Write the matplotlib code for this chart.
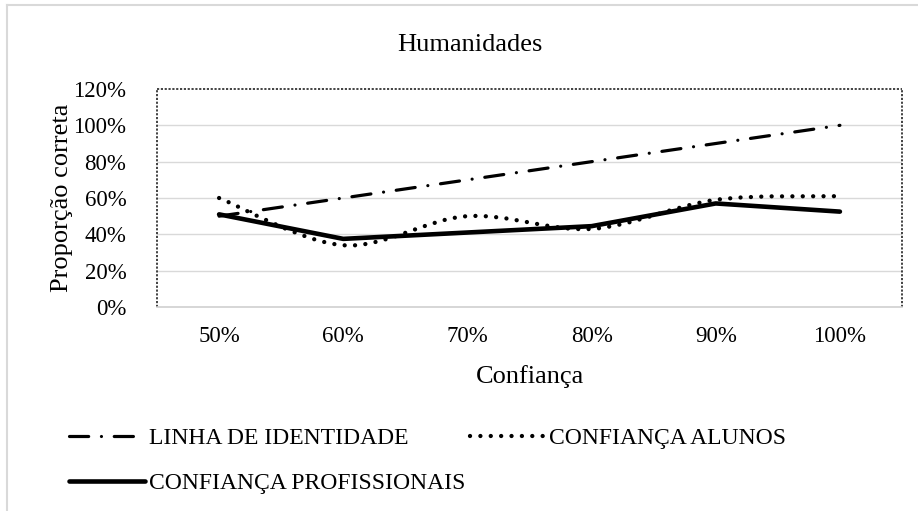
import matplotlib
matplotlib.use("Agg")
import matplotlib.pyplot as plt
from matplotlib.path import Path
from matplotlib.patches import PathPatch
from matplotlib.lines import Line2D
import numpy as np

plt.rcParams['font.family'] = ['Liberation Serif', 'DejaVu Serif']

categories = ["50%", "60%", "70%", "80%", "90%", "100%"]
identidade = [0.50, 0.60, 0.70, 0.80, 0.90, 1.00]
alunos = [0.60, 0.34, 0.50, 0.43, 0.59, 0.61]
profissionais = [0.51, 0.375, 0.41, 0.445, 0.57, 0.525]
yticks = [0, 0.2, 0.4, 0.6, 0.8, 1.0, 1.2]
ytick_labels = ["0%", "20%", "40%", "60%", "80%", "100%", "120%"]

W, H = 918, 511
fig = plt.figure(figsize=(W / 100, H / 100), dpi=100)
ax = fig.add_axes([157 / W, 1 - 307 / H, (902 - 157) / W, (307 - 89) / H])

x = np.arange(len(categories))

DASHDOT = (0, (6, 4.0, 0.01, 4.0))
DOTS = (0, (0.01, 2.4))


def smooth_path(xs, ys):
    n = len(xs)
    verts = [(xs[0], ys[0])]
    codes = [Path.MOVETO]
    for i in range(n - 1):
        p0 = i - 1 if i > 0 else i
        p3 = i + 2 if i + 2 < n else i + 1
        c1 = (xs[i] + (xs[i + 1] - xs[p0]) / 6, ys[i] + (ys[i + 1] - ys[p0]) / 6)
        c2 = (xs[i + 1] - (xs[p3] - xs[i]) / 6, ys[i + 1] - (ys[p3] - ys[i]) / 6)
        verts += [c1, c2, (xs[i + 1], ys[i + 1])]
        codes += [Path.CURVE4] * 3
    return Path(verts, codes)


# gridlines
for yv in yticks[1:-1]:
    ax.axhline(yv, color="#d9d9d9", lw=1.0, zorder=0)

ax.plot(x, identidade, color="black", lw=2.3, linestyle=DASHDOT,
        dash_capstyle="round", zorder=3)
dot_patch = PathPatch(smooth_path(x, alunos), fill=False, edgecolor="black", lw=3.1,
                      linestyle=DOTS, capstyle="round", zorder=3)
ax.add_patch(dot_patch)
ax.plot(x, profissionais, color="black", lw=3.3, solid_capstyle="round",
        solid_joinstyle="round", zorder=4)

ax.set_xlim(-0.5, len(categories) - 0.5)
ax.set_ylim(0, 1.2)
ax.set_xticks(x)
ax.set_xticklabels(categories, fontsize=16.5)
ax.set_yticks(yticks)
ax.set_yticklabels(ytick_labels, fontsize=16.5)
ax.tick_params(length=0)
ax.tick_params(axis="y", pad=22)
ax.tick_params(axis="x", pad=14)

for s in ["left", "top", "right"]:
    ax.spines[s].set_linestyle((0, (1.3, 1.0)))
    ax.spines[s].set_linewidth(1.2)
    ax.spines[s].set_color("#222222")
    ax.spines[s].set_capstyle("butt")
ax.spines["bottom"].set_color("#d0d0d0")
ax.spines["bottom"].set_linewidth(1.2)

fig.text(470 / W, 1 - 45 / H, "Humanidades", ha="center", va="center", fontsize=19)
fig.text(530 / W, 1 - 377 / H, "Confiança", ha="center", va="center", fontsize=19)
fig.text(62 / W, 1 - 198 / H, "Proporção correta", ha="center", va="center",
         rotation=90, fontsize=19)

# outer chart border (cropped)
fig.add_artist(Line2D([7 / W, 7 / W], [0, 1 - 5 / H], color="#d9d9d9", lw=1.5))
fig.add_artist(Line2D([7 / W, 1], [1 - 5 / H, 1 - 5 / H], color="#d9d9d9", lw=1.5))

h_ident = Line2D([], [], color="black", lw=2.3, linestyle=DASHDOT, dash_capstyle="round")
h_alunos = Line2D([], [], color="black", lw=3.1, linestyle=DOTS, dash_capstyle="round")
h_prof = Line2D([], [], color="black", lw=3.3, solid_capstyle="round")
handles = [h_ident, h_prof, h_alunos]
labels = ["LINHA DE IDENTIDADE", "CONFIANÇA PROFISSIONAIS", "CONFIANÇA ALUNOS"]
fig.legend(handles, labels, loc="upper left", bbox_to_anchor=(60 / W, 1 - 418 / H),
           ncol=2, frameon=False, fontsize=17, handlelength=3.2, handletextpad=0.15,
           columnspacing=0.2, labelspacing=1.0, borderaxespad=0)

fig.savefig("out.png", dpi=100)
